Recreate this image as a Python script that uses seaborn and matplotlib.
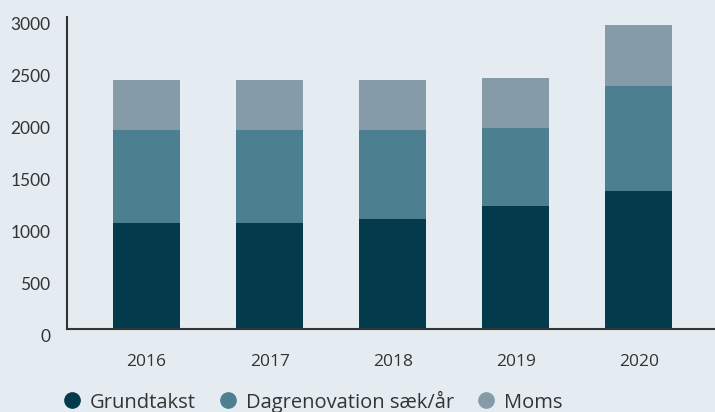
import matplotlib
matplotlib.use("Agg")
import matplotlib.pyplot as plt
import matplotlib.transforms as mtransforms
from matplotlib.lines import Line2D
import seaborn as sns
import pandas as pd
import numpy as np

years = ["2016", "2017", "2018", "2019", "2020"]
grundtakst = [1020, 1020, 1060, 1184, 1331]
dagrenovation = [895, 895, 855, 750, 1006]
moms = [479, 479, 479, 484, 584]
series_names = ["Grundtakst", "Dagrenovation sæk/år", "Moms"]
y_ticks = [0, 500, 1000, 1500, 2000, 2500, 3000]

colors = ["#033b4d", "#4c7f8f", "#859ba8"]
bg = "#e4ecf2"

sns.set_theme(style="white")
plt.rcParams["font.family"] = ["Open Sans", "DejaVu Sans"]

df = pd.DataFrame({"year": years, "g": grundtakst, "d": dagrenovation, "m": moms})
df["gd"] = df["g"] + df["d"]
df["total"] = df["gd"] + df["m"]

fig = plt.figure(figsize=(7.15, 4.12), dpi=100, facecolor=bg)
W, H = 715, 412
ax = fig.add_axes([67.3 / W, (H - 329.3) / H, (715 - 67.3) / W, (329.3 - 17) / H])
ax.set_facecolor(bg)

bw = 0.545
sns.barplot(data=df, x="year", y="total", color=colors[2], width=bw, saturation=1, ax=ax, linewidth=0)
sns.barplot(data=df, x="year", y="gd", color=colors[1], width=bw, saturation=1, ax=ax, linewidth=0)
sns.barplot(data=df, x="year", y="g", color=colors[0], width=bw, saturation=1, ax=ax, linewidth=0)

ax.set_xlim(-0.644, 4.62)
ax.set_ylim(0, 3000)
ax.set_yticks(y_ticks)
ax.set_yticklabels([str(v) for v in y_ticks], fontsize=12.5, color="#333333", family=["Lato", "DejaVu Sans"])
ax.set_xlabel("")
ax.set_ylabel("")
ax.tick_params(axis="x", length=0, pad=18, labelsize=12.5, labelcolor="#333333")
ax.tick_params(axis="y", length=0, pad=12)

offset = mtransforms.ScaledTranslation(0, -0.06, fig.dpi_scale_trans)
for lbl in ax.get_yticklabels():
    lbl.set_transform(lbl.get_transform() + offset)

for s in ["top", "right"]:
    ax.spines[s].set_visible(False)
for s in ["left", "bottom"]:
    ax.spines[s].set_color("#333333")
    ax.spines[s].set_linewidth(1.5)

fs = 14.5
fpx = fs * 100 / 72
handles = [Line2D([0], [0], marker="o", linestyle="", markersize=11,
                  markerfacecolor=c, markeredgecolor=c) for c in colors]
fig.legend(handles, series_names, loc="center left",
           bbox_to_anchor=((72 - 0.4 * fpx - 0.5 * fpx - 0.5 * fpx) / W, (H - 401.5) / H),
           ncol=3, frameon=False,
           prop={"family": ["Open Sans", "DejaVu Sans"], "size": fs},
           handletextpad=(18 - 0.5 * fpx) / fpx, columnspacing=(32 - 0.5 * fpx) / fpx,
           handlelength=1.0, labelcolor="#333333")

fig.savefig("out.png", dpi=100, facecolor=bg)
